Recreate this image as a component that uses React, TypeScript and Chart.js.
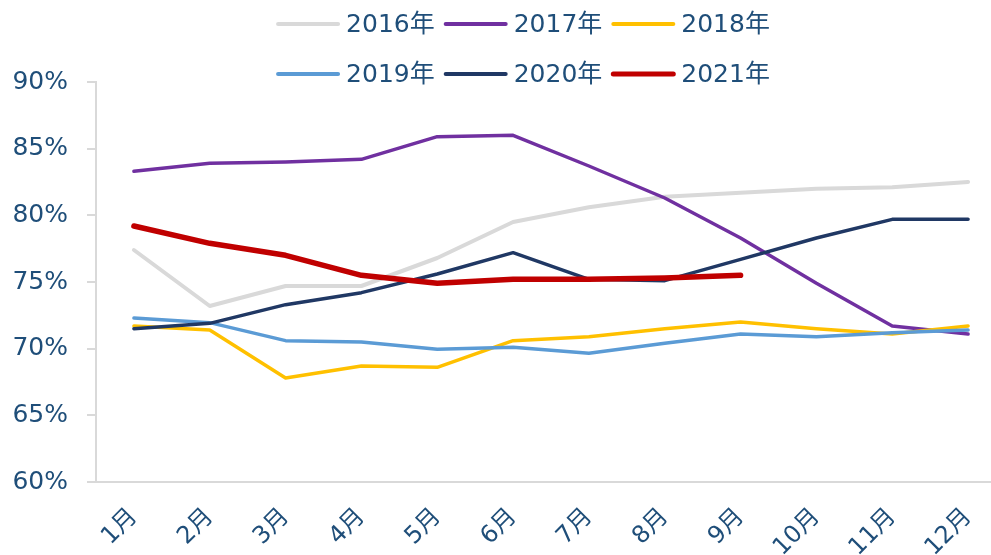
import React, { useEffect, useRef } from "react";
import { Chart, registerables } from "chart.js";

Chart.register(...registerables);

const months = ["1月", "2月", "3月", "4月", "5月", "6月", "7月", "8月", "9月", "10月", "11月", "12月"];
const yearLabels = ["2016年", "2017年", "2018年", "2019年", "2020年", "2021年"];
const y2016 = [77.4, 73.2, 74.7, 74.7, 76.8, 79.5, 80.6, 81.4, 81.7, 82.0, 82.1, 82.5];
const y2017 = [83.3, 83.9, 84.0, 84.2, 85.9, 86.0, 83.7, 81.3, 78.3, 74.9, 71.7, 71.1];
const y2018 = [71.7, 71.4, 67.8, 68.7, 68.6, 70.6, 70.9, 71.5, 72.0, 71.5, 71.1, 71.7];
const y2019 = [72.3, 71.95, 70.6, 70.5, 69.95, 70.1, 69.65, 70.4, 71.1, 70.9, 71.2, 71.4];
const y2020 = [71.5, 71.9, 73.3, 74.2, 75.6, 77.2, 75.2, 75.1, 76.7, 78.3, 79.7, 79.7];
const y2021 = [79.2, 77.9, 77.0, 75.5, 74.9, 75.2, 75.2, 75.3, 75.5, null, null, null];
const yMin = 60;
const yMax = 90;
const yStep = 5;

const seriesValues = [y2016, y2017, y2018, y2019, y2020, y2021];
const seriesColors = ["#D9D9D9", "#7030A0", "#FFC000", "#5B9BD5", "#203864", "#C00000"];
const seriesWidths = [4, 3.5, 3.5, 3.5, 3.5, 5.5];

const FONT = "'DejaVu Sans', 'Noto Sans CJK SC', sans-serif";
const TEXT_COLOR = "#1F4E79";
const AXIS_COLOR = "#D9D9D9";

const legendPlugin = {
  id: "customLegend",
  afterDraw(chart: any) {
    const ctx = chart.ctx;
    ctx.save();
    ctx.font = `25px ${FONT}`;
    const lineLen = 64;
    const gapA = 6;
    const gapB = 9;
    const rows = [[0, 1, 2], [3, 4, 5]];
    const rowY = [24, 74];
    const centerX = 523;
    rows.forEach((row, r) => {
      const widths = row.map((i) => lineLen + gapA + ctx.measureText(yearLabels[i]).width);
      const total = widths.reduce((a, b) => a + b, 0) + gapB * (row.length - 1);
      let x = centerX - total / 2;
      const y = rowY[r];
      row.forEach((i, k) => {
        ctx.strokeStyle = seriesColors[i];
        ctx.lineWidth = i === 5 ? 5 : 4;
        ctx.lineCap = "round";
        ctx.beginPath();
        ctx.moveTo(x + 2, y);
        ctx.lineTo(x + lineLen - 2, y);
        ctx.stroke();
        ctx.fillStyle = TEXT_COLOR;
        ctx.textBaseline = "middle";
        ctx.textAlign = "left";
        ctx.fillText(yearLabels[i], x + lineLen + gapA, y + 1);
        x += widths[k] + gapB;
      });
    });
    ctx.restore();
  },
};

export default function App() {
  const ref = useRef<HTMLCanvasElement | null>(null);
  useEffect(() => {
    if (!ref.current) return;
    const chart = new Chart(ref.current, {
      type: "line",
      data: {
        labels: months,
        datasets: seriesValues.map((vals, i) => ({
          label: yearLabels[i],
          data: vals,
          borderColor: seriesColors[i],
          backgroundColor: seriesColors[i],
          borderWidth: seriesWidths[i],
          pointRadius: 0,
          pointHoverRadius: 0,
          tension: 0,
          fill: false,
          spanGaps: false,
          borderCapStyle: "round",
          borderJoinStyle: "round",
          order: 6 - i,
        })),
      },
      options: {
        animation: false,
        responsive: false,
        devicePixelRatio: 1,
        layout: { padding: { top: 82, right: 4, left: 0, bottom: 0 } },
        plugins: {
          legend: { display: false },
          tooltip: { enabled: false },
        },
        scales: {
          x: {
            type: "category",
            offset: true,
            grid: { display: false },
            border: { display: true, color: AXIS_COLOR, width: 2 },
            ticks: {
              color: TEXT_COLOR,
              font: { family: FONT, size: 24 },
              minRotation: 45,
              maxRotation: 45,
              autoSkip: false,
              padding: 13,
            },
            afterFit: (s: any) => {
              s.height = 73;
            },
          },
          y: {
            min: yMin,
            max: yMax,
            ticks: {
              stepSize: yStep,
              color: TEXT_COLOR,
              font: { family: FONT, size: 25 },
              padding: 19,
              callback: (v: any) => `${v}%`,
            },
            grid: {
              drawOnChartArea: false,
              drawTicks: true,
              tickLength: 9,
              color: AXIS_COLOR,
              lineWidth: 2,
            },
            border: { display: true, color: AXIS_COLOR, width: 2 },
            afterFit: (s: any) => {
              s.width = 96;
            },
          },
        },
      },
      plugins: [legendPlugin],
    } as any);
    return () => chart.destroy();
  }, []);
  return (
    <div style={{ position: "fixed", left: 0, top: 0, width: 991, height: 555, overflow: "hidden", background: "#fff" }}>
      <canvas ref={ref} width={1010} height={555} style={{ width: 1010, height: 555, display: "block" }} />
    </div>
  );
}
